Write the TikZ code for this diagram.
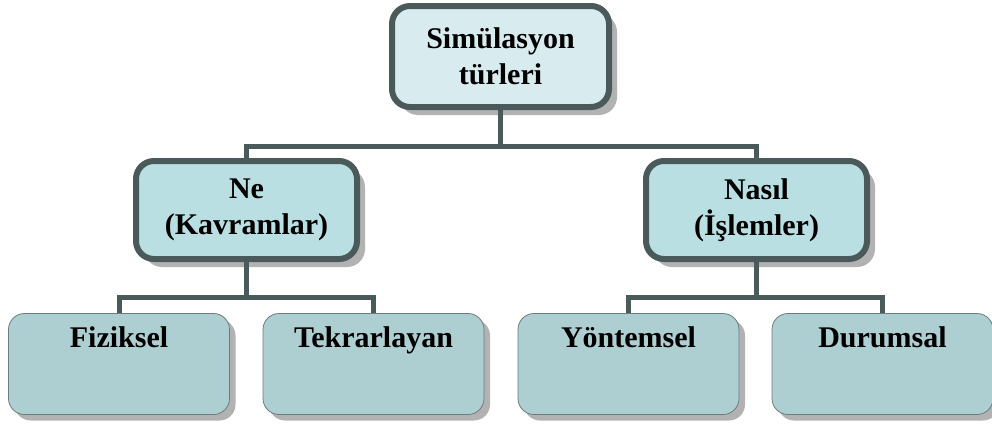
\documentclass[tikz,border=0pt]{standalone}
\usepackage{fontspec}
\setmainfont{Liberation Serif}
\usetikzlibrary{shadows}

\definecolor{edgegray}{HTML}{4A5A5B}
\definecolor{topfill}{HTML}{D8ECEF}
\definecolor{midfill}{HTML}{B9DFE3}
\definecolor{lowfill}{HTML}{AECFD2}

\begin{document}
\begin{tikzpicture}[x=1pt,y=-1pt,
    every node/.style={font=\fontsize{30}{36}\selectfont\bfseries,align=center},
    upperbox/.style={draw=edgegray,line width=6pt,rounded corners=18pt,
        drop shadow={shadow xshift=8pt,shadow yshift=-8pt,fill=black!30,opacity=1}},
    lowerbox/.style={draw=edgegray!80,line width=0.8pt,fill=lowfill,rounded corners=16pt,
        minimum width=221pt,inner ysep=10pt,text height=24pt,text depth=57pt,
        drop shadow={shadow xshift=6pt,shadow yshift=-6pt,fill=black!30,opacity=1}},
    conn/.style={draw=edgegray,line width=5pt}]
\useasboundingbox (0,0) rectangle (992,423);
            % top level
            \node[upperbox,fill=topfill,minimum width=217pt,minimum height=101pt] (sim) at (500.5,56.5) {Simülasyon\\türleri};
            % second level
            \node[upperbox,fill=midfill,minimum width=221pt,minimum height=98pt] (ne) at (246.5,210) {Ne\\(Kavramlar)};
            \node[upperbox,fill=midfill,minimum width=221pt,minimum height=98pt] (nasil) at (756.5,210) {Nasıl\\(İşlemler)};
            % third level
            \node[lowerbox] (fiz) at (119,364) {Fiziksel};
            \node[lowerbox] (tek) at (373.5,364) {Tekrarlayan};
            \node[lowerbox] (yon) at (628.5,364) {Yöntemsel};
            \node[lowerbox] (dur) at (882.5,364) {Durumsal};
            % connectors
            \draw[conn] (sim.south) -- ++(0,36) coordinate (topbar);
            \draw[conn] (ne.north) |- (topbar) -| (nasil.north);
            \draw[conn] (ne.south) -- ++(0,35) coordinate (leftbar);
            \draw[conn] (fiz.north) |- (leftbar) -| (tek.north);
            \draw[conn] (nasil.south) -- ++(0,35) coordinate (rightbar);
            \draw[conn] (yon.north) |- (rightbar) -| (dur.north);
\end{tikzpicture}
\end{document}
